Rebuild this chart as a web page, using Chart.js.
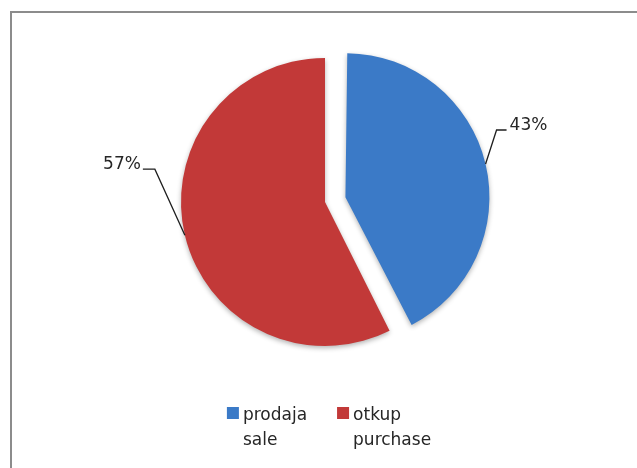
<!DOCTYPE html>
<html>
<head>
<meta charset="utf-8">
<script src="https://cdn.jsdelivr.net/npm/chart.js@4.4.1/dist/chart.umd.min.js"></script>
<style>
  html, body { margin: 0; padding: 0; background: #fff; }
  #wrap { position: relative; width: 637px; height: 468px; }
</style>
</head>
<body>
<div id="wrap"><canvas id="pieChart" width="637" height="468"></canvas></div>
<script>
// Data for the pie (shares, labels round to 43% / 57%)
const sliceNames = [['prodaja', 'sale'], ['otkup', 'purchase']];
const sliceValues = [42.6, 57.4];
const sliceColors = ['#3b7ac7', '#c23938'];
const sliceOffsets = [84, 0]; // blue slice is pulled out

// Leader line bends for each label: [dx, dy, horizontal run]
const leaderBends = [[11, -34, 10], [-30, -66, -12]];

const FONT = '17px "DejaVu Sans", Verdana, sans-serif';

// Grey frame round the chart (runs off the right and bottom)
const framePlugin = {
  id: 'frame',
  beforeDraw(chart) {
    const ctx = chart.ctx;
    ctx.save();
    ctx.fillStyle = '#fff';
    ctx.fillRect(0, 0, chart.width, chart.height);
    ctx.strokeStyle = '#8c8c8c';
    ctx.lineWidth = 2;
    ctx.strokeRect(11, 12, chart.width + 20, chart.height + 20);
    ctx.restore();
  }
};

// Chart.js grows an offset slice's radius; keep it the same size as the rest
const explodePlugin = {
  id: 'explode',
  beforeDatasetsDraw(chart) {
    chart.getDatasetMeta(0).data.forEach(arc => {
      const fix = 1 - Math.sin(Math.min(Math.PI, arc.circumference));
      arc.savedRadius = arc.outerRadius;
      arc.outerRadius -= (arc.options.offset || 0) / 4 * fix;
    });
    const ctx = chart.ctx;
    ctx.save();
    ctx.shadowColor = 'rgba(0,0,0,0.3)';
    ctx.shadowBlur = 5;
    ctx.shadowOffsetY = 2;
  },
  afterDatasetsDraw(chart) {
    chart.ctx.restore();
    chart.getDatasetMeta(0).data.forEach(arc => {
      arc.outerRadius = arc.savedRadius;
    });
  }
};

// Percent labels with leader lines
const leaderPlugin = {
  id: 'leaders',
  afterDatasetsDraw(chart) {
    const ctx = chart.ctx;
    const meta = chart.getDatasetMeta(0);
    const total = sliceValues.reduce((a, b) => a + b, 0);
    meta.data.forEach((arc, i) => {
      const p = arc.getProps(['x', 'y', 'startAngle', 'endAngle', 'outerRadius'], true);
      const mid = (p.startAngle + p.endAngle) / 2;
      const shift = (arc.options.offset || 0) / 4;
      const sx = p.x + Math.cos(mid) * (shift + p.outerRadius);
      const sy = p.y + Math.sin(mid) * (shift + p.outerRadius);
      const bend = leaderBends[i];
      const ex = sx + bend[0];
      const ey = sy + bend[1];
      const tx = ex + bend[2];
      ctx.save();
      ctx.strokeStyle = '#1e1e1e';
      ctx.lineWidth = 1.3;
      ctx.beginPath();
      ctx.moveTo(sx, sy);
      ctx.lineTo(ex, ey);
      ctx.lineTo(tx, ey);
      ctx.stroke();
      ctx.font = FONT;
      ctx.fillStyle = '#262626';
      ctx.textBaseline = 'alphabetic';
      const right = bend[2] > 0;
      ctx.textAlign = right ? 'left' : 'right';
      const txt = Math.round(sliceValues[i] / total * 100) + '%';
      ctx.fillText(txt, tx + (right ? 3 : -2), ey);
      ctx.restore();
    });
  }
};

// Legend with two-line names under the pie
const legendPlugin = {
  id: 'twoLineLegend',
  afterDraw(chart) {
    const ctx = chart.ctx;
    ctx.save();
    ctx.font = FONT;
    const box = 12, boxGap = 4, itemGap = 30, lineH = 25;
    const widths = sliceNames.map(lines =>
      box + boxGap + Math.max(...lines.map(l => ctx.measureText(l).width)));
    const totalW = widths.reduce((a, b) => a + b, 0) + itemGap * (widths.length - 1);
    let x = 329 - totalW / 2;
    const top = 407;
    sliceNames.forEach((lines, i) => {
      ctx.fillStyle = sliceColors[i];
      ctx.fillRect(x, top, box, box);
      ctx.fillStyle = '#262626';
      ctx.textAlign = 'left';
      ctx.textBaseline = 'alphabetic';
      lines.forEach((l, j) => ctx.fillText(l, x + box + boxGap, top + 13 + j * lineH));
      x += widths[i] + itemGap;
    });
    ctx.restore();
  }
};

const ctx = document.getElementById('pieChart').getContext('2d');
const pieChart = new Chart(ctx, {
  type: 'pie',
  data: {
    labels: sliceNames,
    datasets: [{
      data: sliceValues,
      backgroundColor: sliceColors,
      borderWidth: 0,
      offset: sliceOffsets
    }]
  },
  options: {
    responsive: false,
    animation: false,
    radius: 144,
    layout: { padding: { left: 20, right: 7, top: 20, bottom: 84 } },
    plugins: {
      legend: { display: false },
      tooltip: { enabled: false }
    }
  },
  plugins: [framePlugin, explodePlugin, leaderPlugin, legendPlugin]
});
</script>
</body>
</html>
